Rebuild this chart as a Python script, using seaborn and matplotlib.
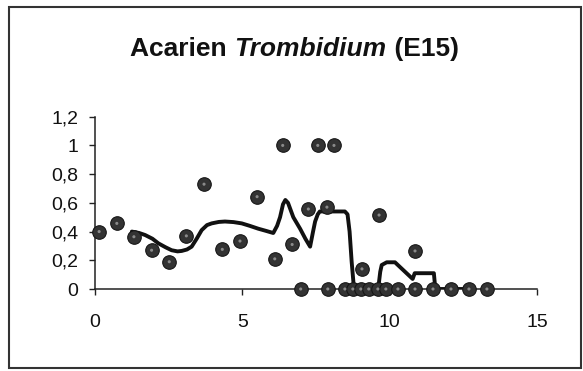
import matplotlib
matplotlib.use("Agg")
import matplotlib.pyplot as plt
from matplotlib.patches import Rectangle
import seaborn as sns
import pandas as pd

# Observations (abundance index by sampling time)
obs_x = [0.14, 0.74, 1.32, 1.92, 2.52, 3.10, 3.70, 4.32, 4.92, 5.50,
         6.10, 6.37, 6.69, 6.98, 7.24, 7.56, 7.87, 7.90, 8.11, 8.48,
         8.75, 9.02, 9.06, 9.29, 9.60, 9.64, 9.87, 10.28, 10.86, 10.86,
         11.47, 12.08, 12.69, 13.30]
obs_y = [0.40, 0.457, 0.364, 0.27, 0.19, 0.37, 0.73, 0.276, 0.334, 0.643,
         0.21, 1.0, 0.31, 0.0, 0.557, 1.0, 0.57, 0.0, 1.0, 0.0,
         0.0, 0.0, 0.14, 0.0, 0.0, 0.515, 0.0, 0.0, 0.265, 0.0,
         0.0, 0.0, 0.0, 0.0]

# Smoothed trend (moving average curve)
trend_x = [1.25, 1.50, 1.70, 1.95, 2.15, 2.40, 2.60, 2.80, 2.94, 3.12,
           3.28, 3.45, 3.62, 3.80, 3.96, 4.20, 4.41, 4.70, 4.98, 5.25,
           5.54, 5.80, 6.05, 6.18, 6.28, 6.38, 6.46, 6.55, 6.73, 6.96,
           7.14, 7.30, 7.40, 7.47, 7.56, 7.63, 7.97, 8.48, 8.57, 8.64,
           8.71, 8.79, 9.61, 9.68, 9.73, 9.90, 10.18, 10.78, 10.85, 11.50,
           11.55, 12.70]
trend_y = [0.40, 0.39, 0.376, 0.35, 0.318, 0.29, 0.27, 0.262, 0.265, 0.275,
           0.295, 0.35, 0.41, 0.445, 0.457, 0.467, 0.47, 0.466, 0.457, 0.44,
           0.42, 0.405, 0.39, 0.44, 0.50, 0.59, 0.62, 0.60, 0.50, 0.42,
           0.35, 0.295, 0.40, 0.47, 0.52, 0.54, 0.54, 0.54, 0.52, 0.40,
           0.19, 0.0, 0.0, 0.12, 0.167, 0.186, 0.186, 0.07, 0.11, 0.11,
           0.0, 0.0]

y_ticks = [0, 0.2, 0.4, 0.6, 0.8, 1.0, 1.2]
y_tick_labels = ["0", "0,2", "0,4", "0,6", "0,8", "1", "1,2"]
x_ticks = [0, 5, 10, 15]
x_tick_labels = ["0", "5", "10", "15"]

sns.set_theme(style="white")
plt.rcParams["font.family"] = ["Liberation Sans", "DejaVu Sans"]

W, H, DPI = 583, 371, 100
fig = plt.figure(figsize=(W / DPI, H / DPI), dpi=DPI)
fig.patch.set_facecolor("white")

ax = fig.add_axes([95 / W, 1 - 289 / H, (537 - 95) / W, (289 - 116.7) / H])
ax.set_facecolor("white")

obs = pd.DataFrame({"x": obs_x, "y": obs_y})
trend = pd.DataFrame({"x": trend_x, "y": trend_y})

sns.lineplot(data=trend, x="x", y="y", sort=False, estimator=None,
             color="#111111", linewidth=2.8, ax=ax, zorder=3,
             solid_joinstyle="round", solid_capstyle="round")
sns.scatterplot(data=obs, x="x", y="y", s=95, color="#333333",
                edgecolor="#161616", linewidth=0.8, ax=ax, zorder=4,
                clip_on=False)
# light speckle inside each marker
sns.scatterplot(data=obs, x="x", y="y", s=5, color="#8a8a8a",
                edgecolor="none", ax=ax, zorder=5, clip_on=False)

ax.set_xlim(0, 15)
ax.set_ylim(0, 1.2)
ax.set_xticks(x_ticks)
ax.set_xticklabels(x_tick_labels)
ax.set_yticks(y_ticks)
ax.set_yticklabels(y_tick_labels)
ax.set_xlabel("")
ax.set_ylabel("")
for side in ("top", "right"):
    ax.spines[side].set_visible(False)
for side in ("left", "bottom"):
    ax.spines[side].set_color("#222222")
    ax.spines[side].set_linewidth(1.1)
ax.tick_params(axis="both", direction="out", length=4, width=1.0,
               color="#222222", labelsize=14, labelcolor="#111111")
ax.tick_params(axis="y", pad=8)
ax.tick_params(axis="x", pad=14)
ax.tick_params(bottom=True, left=True)
ax.grid(False)

# Title with italic genus name
fig.canvas.draw()
renderer = fig.canvas.get_renderer()
parts = [("Acarien ", "normal"), ("Trombidium", "italic"), (" (E15)", "normal")]
fs = 19
texts = []
widths = []
for s, st in parts:
    t = fig.text(0, 0, s, fontsize=fs, fontweight="bold", fontstyle=st,
                 color="#111111", va="baseline", ha="left")
    bb = t.get_window_extent(renderer)
    widths.append(bb.width)
    texts.append(t)
total = sum(widths)
cx = 294.5
x0 = cx - total / 2
base_y = 1 - 56 / H
for t, w in zip(texts, widths):
    t.set_position((x0 / W, base_y))
    x0 += w

fig.add_artist(Rectangle((9 / W, 1 - 368 / H), (581 - 9) / W, (368 - 7) / H,
                         transform=fig.transFigure, fill=False,
                         edgecolor="#333333", linewidth=1.5))

fig.savefig("out.png", dpi=DPI)
